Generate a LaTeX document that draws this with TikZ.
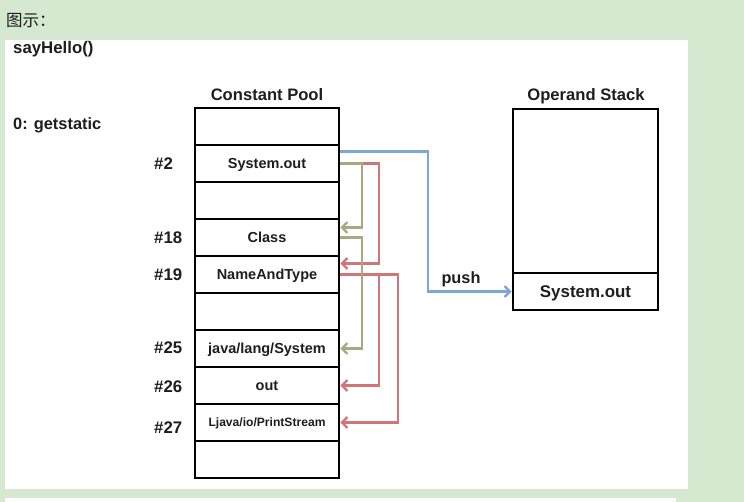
\documentclass[tikz,border=0pt]{standalone}
\usepackage{fontspec}
\setmainfont{Liberation Sans}
\newfontfamily\cjk{Noto Sans CJK SC}
\usetikzlibrary{arrows.meta}
\definecolor{bggreen}{RGB}{213,232,208}
\definecolor{linkblue}{RGB}{126,166,214}
\definecolor{linkolive}{RGB}{170,168,126}
\definecolor{linkred}{RGB}{208,118,118}
\definecolor{ink}{RGB}{30,30,30}
\begin{document}
\begin{tikzpicture}[x=1pt,y=-1pt,
  every node/.style={text=ink},
  cell/.style={draw=black,line width=2.6pt,minimum width=144pt,minimum height=37pt,inner sep=0pt,text height=10pt,text depth=0pt,font=\bfseries\fontsize{14.5}{16}\selectfont},
  stackcell/.style={draw=black,line width=2.6pt,minimum width=145pt,inner sep=0pt,text height=12pt,text depth=0pt,font=\bfseries\fontsize{16.9}{18}\selectfont},
  idx/.style={anchor=west,inner sep=0pt,font=\bfseries\fontsize{16.8}{18}\selectfont},
  title/.style={inner sep=0pt,font=\bfseries\fontsize{16.6}{18}\selectfont},
  link/.style={line width=2.3pt,-{Straight Barb[length=5.5pt,width=11pt]}}
]
\useasboundingbox (0,0) rectangle (744,502);
\fill[bggreen] (0,0) rectangle (744,502);
\fill[white] (5,40) rectangle (688,489);
\fill[white] (5,498) rectangle (676,502);

\node[anchor=west,inner sep=0pt,font=\cjk\fontsize{16.5}{18}\selectfont] (cap) at (6,21) {图示：};
\node[anchor=west,inner sep=0pt,font=\bfseries\fontsize{16.8}{18}\selectfont] (meth) at (13,49) {sayHello()};
\node[anchor=west,inner sep=0pt,font=\bfseries\fontsize{16.4}{18}\selectfont] (ins) at (13,125) {0: getstatic};

% constant pool
\node[title] (cpt) at (267,95) {Constant Pool};
\node[cell] (c1) at (267,126.5) {};
\node[cell] (c2) at (267,163.5) {System.out};
\node[cell] (c3) at (267,200.5) {};
\node[cell] (c4) at (267,237.5) {Class};
\node[cell] (c5) at (267,274.5) {NameAndType};
\node[cell] (c6) at (267,311.5) {};
\node[cell] (c7) at (267,348.5) {java/lang/System};
\node[cell] (c8) at (267,385.5) {out};
\node[cell,text height=8.5pt,font=\bfseries\fontsize{12.1}{13}\selectfont] (c9) at (267,422.5) {Ljava/io/PrintStream};
\node[cell] (c10) at (267,459.5) {};

\node[idx] (i2) at (154,164) {\#2};
\node[idx] (i18) at (154,238) {\#18};
\node[idx] (i19) at (154,275) {\#19};
\node[idx] (i25) at (154,348) {\#25};
\node[idx] (i26) at (154,387) {\#26};
\node[idx] (i27) at (154,428) {\#27};

% operand stack
\node[title] (ost) at (586,96) {Operand Stack};
\node[stackcell,minimum height=164pt] (s1) at (585.5,191) {};
\node[stackcell,minimum height=37pt] (s2) at (585.5,291.5) {System.out};

% links
\draw[link,linkblue] ([yshift=12pt]c2.east) -- ++(88,0) |- (s2.west);
\node[inner sep=0pt,font=\bfseries\fontsize{16.3}{18}\selectfont] (push) at (461,279) {push};
\draw[link,linkred] (c2.east) -- ++(39,0) |- ([yshift=11pt]c5.east);
\draw[link,linkred] (c5.east) -- ++(39,0) |- (c8.east);
\draw[link,linkred] (c5.east) -- ++(58,0) |- (c9.east);
\draw[link,linkolive] (c2.east) -- ++(22,0) |- ([yshift=10pt]c4.east);
\draw[link,linkolive] (c4.east) -- ++(22,0) |- (c7.east);
\end{tikzpicture}
\end{document}
